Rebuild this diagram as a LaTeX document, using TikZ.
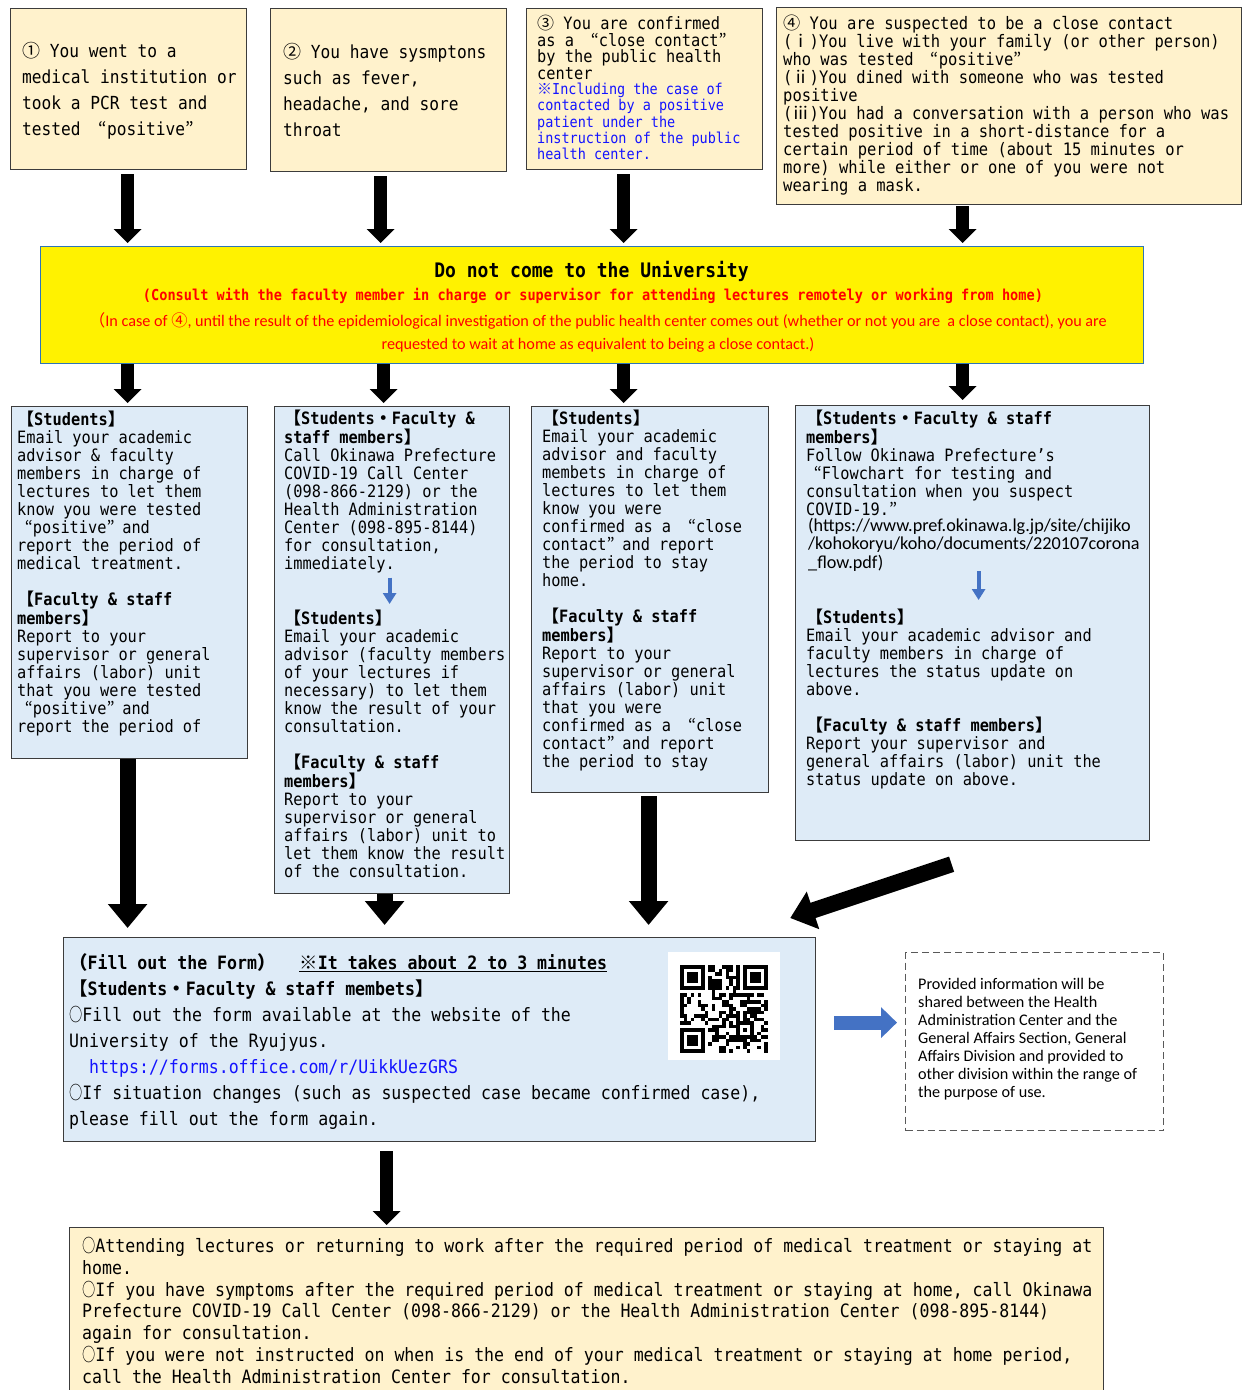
\documentclass[tikz,border=0pt]{standalone}
\usepackage{fontspec}
\usepackage{xcolor}
\setmainfont{DejaVu Sans Mono}[FakeStretch=0.9]
\newfontfamily\jp{Noto Sans CJK JP}
\newfontfamily\calfont{Carlito}
\usetikzlibrary{arrows.meta}

\definecolor{casebg}{RGB}{255,242,204}
\definecolor{infobg}{RGB}{222,235,247}
\definecolor{boxline}{RGB}{60,60,60}
\definecolor{warnline}{RGB}{46,117,182}
\definecolor{noteblue}{RGB}{20,20,255}
\definecolor{arrowblue}{RGB}{68,114,196}

\newcommand{\oq}{\hspace{0.45em}{\jp “}}
\newcommand{\cq}{{\jp ”}\hspace{0.45em}}
\newcommand{\maru}{\scalebox{0.72}[1]{\jp ○}}

\tikzset{
  casebox/.style={draw=boxline, fill=casebg, line width=1.2pt, anchor=north west, inner sep=0pt},
  infobox/.style={draw=boxline, fill=infobg, line width=1.2pt, anchor=north west, inner sep=0pt},
  warnbox/.style={draw=warnline, fill=yellow, line width=1.2pt, anchor=north west, inner sep=0pt},
  notebox/.style={draw=black!65, dash pattern=on 7pt off 4pt, line width=1.3pt, anchor=north west, inner sep=0pt},
  bodytext/.style={anchor=north west, inner sep=0pt, align=left},
  bigarrow/.style={line width=13pt, -{Triangle[width=27pt,length=14pt]}},
  widearrow/.style={line width=16pt, -{Triangle[width=38pt,length=24pt]}},
  bluearrow/.style={draw=arrowblue, line width=4pt, -{Triangle[width=13pt,length=11pt]}},
  blockarrow/.style={draw=arrowblue, line width=14pt, -{Triangle[width=30pt,length=16pt]}}
}

\begin{document}
\begin{tikzpicture}[x=1pt,y=-1pt]
\useasboundingbox (0,0) rectangle (1242,1390);
\fill[white] (0,0) rectangle (1242,1390);
% Drawing the four cases
\node[casebox, minimum width=236pt, minimum height=161pt] (c1) at (10,8) {};
\node[casebox, minimum width=236pt, minimum height=163pt] (c2) at (270,8) {};
\node[casebox, minimum width=236pt, minimum height=161pt] (c3) at (526,8) {};
\node[casebox, minimum width=465pt, minimum height=197pt] (c4) at (776,7) {};
\node[bodytext, font=\fontsize{18}{26}\selectfont] (c1text) at (22,42)
  {{\jp ①} You went to a\\medical institution or\\took a PCR test and\\tested \oq positive\cq};
\node[bodytext, font=\fontsize{18}{26}\selectfont] (c2text) at (283,43)
  {{\jp ②} You have sysmptons\\such as fever,\\headache, and sore\\throat};
\node[bodytext, font=\fontsize{17}{16.7}\selectfont] (c3text) at (537,15)
  {{\jp ③} You are confirmed\\as a \oq close contact\cq\\by the public health\\center};
\node[bodytext, text=noteblue, font=\fontsize{15}{16.3}\selectfont] (c3note) at (537,83)
  {{\jp ※}Including the case of\\contacted by a positive\\patient under the\\instruction of the public\\health center.};
\node[bodytext, font=\fontsize{17.2}{18}\selectfont] (c4text) at (783,15)
  {{\jp ④} You are suspected to be a close contact\\
   ({\jp ⅰ})You live with your family (or other person)\\
   who was tested \oq positive\cq\\
   ({\jp ⅱ})You dined with someone who was tested\\
   positive\\
   ({\jp ⅲ})You had a conversation with a person who was\\
   tested positive in a short-distance for a\\
   certain period of time (about 15 minutes or\\
   more) while either or one of you were not\\
   wearing a mask.};
% Drawing the warning
\node[warnbox, minimum width=1103pt, minimum height=117pt] (warn) at (40,246) {};
\node[font=\bfseries\fontsize{20}{24}\selectfont] (warntitle) at (591.5,271)
  {Do not come to the University};
\node[text=red, font=\bfseries\fontsize{15.1}{18}\selectfont] (warnsub) at (593,296)
  {(Consult with the faculty member in charge or supervisor for attending lectures remotely or working from home)};
\node[text=red, align=center, font=\calfont\fontsize{16.2}{23}\selectfont] (warnnote) at (598,332.5)
  {{\jp （}In case of {\jp ④}, until the result of the epidemiological investigation of the public health center comes out (whether or not you are \ a close contact), you are\\
   requested to wait at home as equivalent to being a close contact.)};
% Drawing the actions
\node[infobox, minimum width=236pt, minimum height=352pt] (b1) at (11,406) {};
\node[infobox, minimum width=235pt, minimum height=487pt] (b2) at (274,406) {};
\node[infobox, minimum width=237pt, minimum height=386pt] (b3) at (531,406) {};
\node[infobox, minimum width=354pt, minimum height=435pt] (b4) at (795,405) {};
\node[bodytext, font=\fontsize{17}{18}\selectfont] (b1text) at (17,411)
  {{\bfseries{\jp 【}Students{\jp 】}}\\
   Email your academic\\
   advisor \& faculty\\
   members in charge of\\
   lectures to let them\\
   know you were tested\\
   \oq positive\cq and\\
   report the period of\\
   medical treatment.\\[18pt]
   {\bfseries{\jp 【}Faculty \& staff}\\
   {\bfseries members{\jp 】}}\\
   Report to your\\
   supervisor or general\\
   affairs (labor) unit\\
   that you were tested\\
   \oq positive\cq and\\
   report the period of};
\node[bodytext, font=\fontsize{17}{18}\selectfont] (b2top) at (284,410)
  {{\bfseries{\jp 【}Students{\jp ・}Faculty \&}\\
   {\bfseries staff members{\jp 】}}\\
   Call Okinawa Prefecture\\
   COVID-19 Call Center\\
   (098-866-2129) or the\\
   Health Administration\\
   Center (098-895-8144)\\
   for consultation,\\
   immediately.};
\node[bodytext, font=\fontsize{17}{18}\selectfont] (b2bot) at (284,610)
  {{\bfseries{\jp 【}Students{\jp 】}}\\
   Email your academic\\
   advisor (faculty members\\
   of your lectures if\\
   necessary) to let them\\
   know the result of your\\
   consultation.\\[18pt]
   {\bfseries{\jp 【}Faculty \& staff}\\
   {\bfseries members{\jp 】}}\\
   Report to your\\
   supervisor or general\\
   affairs (labor) unit to\\
   let them know the result\\
   of the consultation.};
\node[bodytext, font=\fontsize{17}{18}\selectfont] (b3text) at (542,410)
  {{\bfseries{\jp 【}Students{\jp 】}}\\
   Email your academic\\
   advisor and faculty\\
   membets in charge of\\
   lectures to let them\\
   know you were\\
   confirmed as a \oq close\\
   contact\cq and report\\
   the period to stay\\
   home.\\[18pt]
   {\bfseries{\jp 【}Faculty \& staff}\\
   {\bfseries members{\jp 】}}\\
   Report to your\\
   supervisor or general\\
   affairs (labor) unit\\
   that you were\\
   confirmed as a \oq close\\
   contact\cq and report\\
   the period to stay};
\node[bodytext, font=\fontsize{17}{18}\selectfont] (b4top) at (806,410)
  {{\bfseries{\jp 【}Students{\jp ・}Faculty \& staff}\\
   {\bfseries members{\jp 】}}\\
   Follow Okinawa Prefecture's\\
   \oq Flowchart for testing and\\
   consultation when you suspect\\
   COVID-19.{\jp ”}};
\node[bodytext, font=\calfont\fontsize{18.2}{18.3}\selectfont] (b4url) at (808,518)
  {(https://www.pref.okinawa.lg.jp/site/chijiko\\/kohokoryu/koho/documents/220107corona\\\_flow.pdf)};
\node[bodytext, font=\fontsize{17}{18}\selectfont] (b4bot) at (806,609)
  {{\bfseries{\jp 【}Students{\jp 】}}\\
   Email your academic advisor and\\
   faculty members in charge of\\
   lectures the status update on\\
   above.\\[18pt]
   {\bfseries{\jp 【}Faculty \& staff members{\jp 】}}\\
   Report your supervisor and\\
   general affairs (labor) unit the\\
   status update on above.};
% Drawing the form
\node[infobox, minimum width=752pt, minimum height=204pt] (form) at (63,937) {};
\node[fill=white, minimum width=112pt, minimum height=108pt, anchor=north west, inner sep=0pt] (qr) at (668,952) {};
\begin{scope}[shift={(680,965)}, x=3.5pt, y=-3.5pt]
\pgfmathsetseed{4242}
\foreach \i in {0,...,24}{
  \foreach \j in {0,...,24}{
    \pgfmathtruncatemacro{\qrfree}{((\i<8 && \j<8) || (\i>16 && \j<8) || (\i<8 && \j>16) || (\i>15 && \i<21 && \j>15 && \j<21)) ? 0 : 1}
    \pgfmathtruncatemacro{\qron}{(rnd<0.5) ? 1 : 0}
    \ifnum\qrfree\qron=11 \fill[black] (\i,\j) rectangle ++(1,1);\fi
  }
}
\foreach \fx/\fy in {0/0, 18/0, 0/18}{
  \fill[black] (\fx,\fy) rectangle ++(7,7);
  \fill[white] (\fx+1,\fy+1) rectangle ++(5,5);
  \fill[black] (\fx+2,\fy+2) rectangle ++(3,3);
}
\fill[black] (16,16) rectangle ++(5,5);
\fill[white] (17,17) rectangle ++(3,3);
\fill[black] (18,18) rectangle ++(1,1);
\end{scope}
\node[bodytext, font=\fontsize{18.4}{26}\selectfont] (formtext) at (69,953)
  {{\bfseries{\jp （}Fill out the Form{\jp ）}\hspace{24pt}\underline{{\jp ※}It takes about 2 to 3 minutes}}\\
   {\bfseries{\jp 【}Students{\jp ・}Faculty \& staff membets{\jp 】}}\\
   \maru Fill out the form available at the website of the\\
   University of the Ryujyus.\\
   \hspace*{20pt}{\color{noteblue}https://forms.office.com/r/UikkUezGRS}\\
   \maru If situation changes (such as suspected case became confirmed case),\\
   please fill out the form again.};
\node[notebox, minimum width=258pt, minimum height=178pt] (note) at (905,952) {};
\node[bodytext, font=\calfont\fontsize{16.2}{18}\selectfont] (notetext) at (918,978)
  {Provided information will be\\shared between the Health\\Administration Center and the\\General Affairs Section, General\\Affairs Division and provided to\\other division within the range of\\the purpose of use.};
% Drawing the return
\node[casebox, minimum width=1034pt, minimum height=180pt] (back) at (69,1227) {};
\node[bodytext, font=\fontsize{18.4}{21.8}\selectfont] (backtext) at (82,1237)
  {\maru Attending lectures or returning to work after the required period of medical treatment or staying at\\
   home.\\
   \maru If you have symptoms after the required period of medical treatment or staying at home, call Okinawa\\
   Prefecture COVID-19 Call Center (098-866-2129) or the Health Administration Center (098-895-8144)\\
   again for consultation.\\
   \maru If you were not instructed on when is the end of your medical treatment or staying at home period,\\
   call the Health Administration Center for consultation.};
% Done with boxes; drawing arrows
\coordinate (col1) at ([xshift=-1pt]c1.south);
\coordinate (col2) at ([xshift=-8pt]c2.south);
\coordinate (col3) at ([xshift=-21pt]c3.south);
\coordinate (col4) at ([xshift=-46.5pt]c4.south);
\draw[bigarrow, shorten <=4pt, shorten >=3pt] (col1) -- (col1 |- warn.north);
\draw[bigarrow, shorten <=4pt, shorten >=3pt] (col2) -- (col2 |- warn.north);
\draw[bigarrow, shorten <=4pt, shorten >=3pt] (col3) -- (col3 |- warn.north);
\draw[bigarrow, shorten <=1pt, shorten >=3pt] (col4) -- (col4 |- warn.north);
\draw[bigarrow, shorten >=3pt] (col1 |- warn.south) -- (col1 |- b1.north);
\draw[bigarrow, shorten >=3pt] ([xshift=3pt]col2 |- warn.south) -- ([xshift=3pt]col2 |- b2.north);
\draw[bigarrow, shorten >=3pt] (col3 |- warn.south) -- (col3 |- b3.north);
\draw[bigarrow, shorten >=5pt] (col4 |- warn.south) -- (col4 |- b4.north);
\coordinate (d1) at ([xshift=-2pt]b1.south);
\coordinate (d2) at ([xshift=-7.5pt]b2.south);
\coordinate (d3) at ([xshift=-1.5pt]b3.south);
\coordinate (d5) at ([xshift=-53pt]form.south);
\draw[widearrow, shorten >=9pt] (d1) -- (d1 |- form.north);
\draw[widearrow, shorten >=12pt] (d2) -- (d2 |- form.north);
\draw[widearrow, shorten <=3pt, shorten >=12pt] (d3) -- (d3 |- form.north);
\draw[widearrow] ([xshift=-21pt,yshift=-23pt]b4.south) -- ([xshift=-26pt,yshift=19pt]form.north east);
\draw[bigarrow, shorten <=9pt, shorten >=2pt] (d5) -- (d5 |- back.north);
% Blue arrows inside the boxes
\coordinate (e2) at ([xshift=-2.5pt]b2.center);
\coordinate (e4) at ([xshift=6pt]b4.center);
\draw[bluearrow, shorten <=4pt, shorten >=6pt] (e2 |- b2top.south) -- (e2 |- b2bot.north);
\draw[bluearrow, shorten >=9pt] (e4 |- b4url.south) -- (e4 |- b4bot.north);
\coordinate (f1) at ([yshift=17pt]form.east);
\draw[blockarrow, shorten <=18pt, shorten >=8pt] (f1) -- (f1 -| note.west);
% Done with arrows
\end{tikzpicture}
\end{document}
